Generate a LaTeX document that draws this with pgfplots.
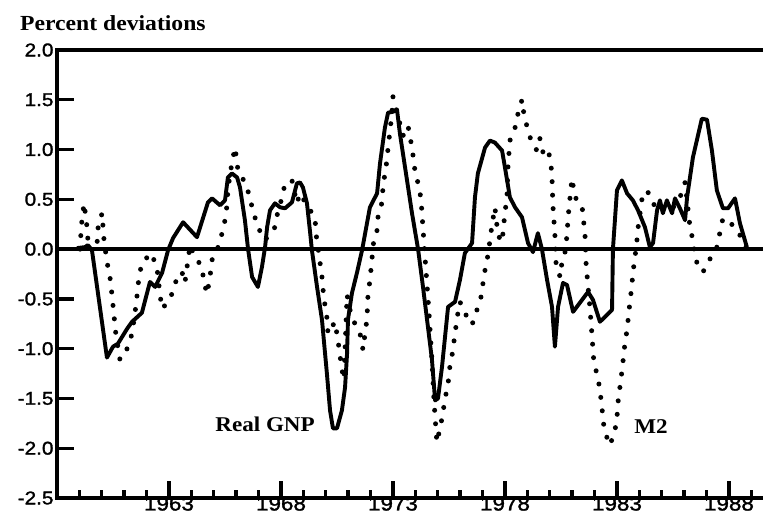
\documentclass[border=0pt]{standalone}
\usepackage{fontspec}
\setmainfont{Liberation Serif}
\newfontfamily\tickfont[FakeStretch=1.12, FakeBold=1.5]{Liberation Sans}
\newfontfamily\labfont[FakeStretch=1.1]{Liberation Serif}
\usepackage{pgfplots}
\usepackage{pgfplotstable}
\pgfplotsset{compat=1.18}

\pgfplotstableread{
year    dev
1958.89  0.01
1959.25  0.02
1959.38  0.04
1959.56 -0.01
1960.23 -1.09
1960.50 -0.98
1960.72 -0.95
1961.13 -0.80
1961.35 -0.73
1961.79 -0.64
1962.15 -0.33
1962.38 -0.38
1962.69 -0.24
1962.96 -0.01
1963.18  0.11
1963.63  0.27
1964.25  0.12
1964.74  0.47
1964.92  0.51
1965.28  0.44
1965.50  0.49
1965.63  0.72
1965.81  0.76
1966.04  0.72
1966.17  0.62
1966.39  0.29
1966.53  0.00
1966.71 -0.28
1966.97 -0.38
1967.15 -0.18
1967.29  0.02
1967.38  0.22
1967.51  0.39
1967.73  0.46
1967.96  0.42
1968.18  0.41
1968.49  0.47
1968.71  0.66
1968.85  0.67
1968.98  0.62
1969.16  0.46
1969.29  0.19
1969.38 -0.01
1969.61 -0.38
1969.83 -0.71
1970.05 -1.25
1970.19 -1.62
1970.32 -1.80
1970.50 -1.80
1970.72 -1.62
1970.86 -1.39
1970.95 -1.05
1970.99 -0.71
1971.17 -0.44
1971.39 -0.24
1971.62 -0.01
1971.84  0.26
1971.97  0.42
1972.29  0.56
1972.42  0.86
1972.64  1.22
1972.78  1.37
1973.00  1.38
1973.18  1.40
1973.31  1.16
1973.54  0.82
1973.85  0.36
1974.12  0.00
1974.34 -0.38
1974.56 -0.78
1974.74 -1.11
1974.88 -1.52
1975.01 -1.50
1975.19 -1.18
1975.46 -0.58
1975.77 -0.53
1975.99 -0.31
1976.21 -0.04
1976.53  0.06
1976.66  0.52
1976.79  0.76
1977.11  1.02
1977.33  1.09
1977.55  1.07
1977.87  0.99
1978.00  0.82
1978.22  0.52
1978.45  0.42
1978.76  0.32
1979.03  0.06
1979.25 -0.03
1979.47  0.16
1979.65  0.00
1979.88 -0.31
1980.10 -0.58
1980.23 -0.98
1980.37 -0.58
1980.59 -0.34
1980.77 -0.36
1981.04 -0.63
1981.71 -0.43
1981.93 -0.51
1982.24 -0.73
1982.78 -0.61
1982.82  0.00
1983.00  0.59
1983.22  0.69
1983.45  0.56
1983.71  0.49
1983.94  0.39
1984.25  0.22
1984.47  0.02
1984.61  0.06
1984.79  0.39
1984.92  0.49
1985.05  0.36
1985.23  0.49
1985.46  0.36
1985.59  0.51
1985.81  0.41
1986.04  0.29
1986.13  0.52
1986.39  0.92
1986.79  1.31
1987.02  1.30
1987.24  0.99
1987.46  0.59
1987.73  0.41
1987.96  0.41
1988.27  0.51
1988.49  0.26
1988.80  0.02
}\gnp

% M2, percent deviation from trend
\pgfplotstableread{
year    dev
1959.03  0.00
1959.07  0.17
1959.12  0.31
1959.21  0.46
1959.34  0.22
1959.38  0.09
1959.79  0.06
1959.83  0.21
1960.01  0.36
1960.10  0.09
1960.19 -0.06
1960.28 -0.19
1960.41 -0.34
1960.46 -0.49
1960.54 -0.64
1960.59 -0.79
1960.68 -0.93
1960.81 -1.11
1961.13 -1.00
1961.35 -0.85
1961.53 -0.56
1961.66 -0.28
1961.79 -0.14
1962.20 -0.04
1962.46 -0.18
1962.60 -0.46
1962.69 -0.60
1962.91 -0.54
1963.18 -0.43
1963.36 -0.28
1963.58 -0.23
1963.71 -0.34
1963.85 -0.11
1963.94  0.04
1964.12 -0.06
1964.47 -0.18
1964.56 -0.33
1964.70 -0.45
1964.83 -0.28
1964.92 -0.11
1965.19  0.02
1965.37  0.16
1965.50  0.29
1965.59  0.44
1965.63  0.60
1965.81  0.87
1965.95  1.02
1966.08  0.79
1966.39  0.67
1966.62  0.52
1966.75  0.37
1966.97  0.24
1967.15  0.12
1967.29  0.09
1967.73  0.22
1967.87  0.39
1968.04  0.51
1968.18  0.66
1968.49  0.69
1968.71  0.46
1968.85  0.56
1969.21  0.42
1969.52  0.32
1969.56  0.16
1969.65  0.02
1969.74 -0.13
1969.83 -0.28
1969.88 -0.41
1969.96 -0.56
1970.05 -0.69
1970.10 -0.85
1970.41 -0.73
1970.54 -0.91
1970.63 -1.06
1970.72 -1.21
1970.81 -1.31
1970.95 -0.46
1971.08 -0.61
1971.30 -0.75
1971.53 -0.85
1971.66 -1.01
1971.84 -0.70
1971.88 -0.48
1971.97 -0.31
1972.06 -0.11
1972.11  0.04
1972.29  0.19
1972.33  0.32
1972.51  0.47
1972.55  0.61
1972.64  0.76
1972.73  0.89
1972.78  1.02
1972.87  1.19
1972.96  1.39
1973.00  1.53
1973.31  1.26
1973.45  1.14
1973.67  1.24
1973.80  1.08
1973.89  0.95
1973.98  0.79
1974.12  0.66
1974.25  0.51
1974.34  0.21
1974.43 -0.08
1974.52 -0.36
1974.61 -0.64
1974.70 -0.98
1974.74 -1.11
1974.83 -1.52
1974.92 -1.82
1974.96 -1.94
1975.10 -1.80
1975.23 -1.65
1975.32 -1.50
1975.46 -1.37
1975.50 -1.23
1975.63 -1.08
1975.72 -0.93
1975.81 -0.78
1975.90 -0.64
1975.99 -0.53
1976.30 -0.68
1976.53 -0.76
1976.75 -0.61
1976.93 -0.48
1977.02 -0.34
1977.11 -0.21
1977.24 -0.06
1977.33  0.09
1977.42  0.24
1977.55  0.42
1977.69  0.14
1977.87  0.07
1978.00  0.37
1978.09  0.52
1978.13  0.81
1978.22  1.09
1978.45  1.22
1978.58  1.36
1978.76  1.50
1978.85  1.35
1979.03  1.19
1979.21  1.06
1979.43  0.99
1979.56  1.11
1979.70  0.97
1979.92  1.01
1980.05  0.86
1980.10  0.72
1980.14  0.44
1980.23  0.14
1980.28 -0.14
1980.46 -0.28
1980.54 -0.14
1980.68 -0.03
1980.77  0.14
1980.81  0.29
1980.86  0.42
1980.99  0.71
1981.13  0.52
1981.44  0.44
1981.49  0.32
1981.57  0.16
1981.62 -0.14
1981.71 -0.38
1981.79 -0.58
1981.88 -0.85
1981.97 -1.14
1982.15 -1.29
1982.24 -1.42
1982.33 -1.59
1982.38 -1.72
1982.46 -1.84
1982.69 -1.97
1982.91 -1.82
1983.00 -1.70
1983.04 -1.55
1983.13 -1.39
1983.22 -1.23
1983.35 -0.96
1983.45 -0.81
1983.58 -0.53
1983.66 -0.38
1983.71 -0.24
1983.80 -0.09
1983.88  0.06
1983.94  0.21
1984.03  0.36
1984.12  0.51
1984.29  0.59
1984.47  0.55
1984.61  0.46
1984.92  0.37
1985.14  0.42
1985.46  0.40
1985.90  0.56
1986.04  0.67
1986.13  0.49
1986.26  0.22
1986.39  0.09
1986.48 -0.06
1986.62 -0.18
1986.84 -0.23
1987.15 -0.10
1987.46  0.02
1987.60  0.17
1987.73  0.31
1988.18  0.24
1988.58  0.11
1988.80  0.00
}\mtwo

\begin{document}
\begin{tikzpicture}
\useasboundingbox (-57pt,-26pt) rectangle (706pt,498pt);
\begin{axis}[
    at={(0,0)}, anchor=south west,
    scale only axis,
    width=706pt, height=448pt,
    xmin=1958, xmax=1989.52,
    ymin=-2.5, ymax=2.0,
    axis line style={draw=none},
    xtick={1963,1968,1973,1978,1983,1988},
    xticklabels={1963,1968,1973,1978,1983,1988},
    minor xtick={1959,...,1989},
    ytick={-2.5,-2.0,-1.5,-1.0,-0.5,0.0,0.5,1.0,1.5,2.0},
    yticklabels={-2.5,-2.0,-1.5,-1.0,-0.5,0.0,0.5,1.0,1.5,2.0},
    xtick pos=bottom, ytick pos=left,
    tick align=inside,
    major tick length=17pt,
    minor tick length=8pt,
    every tick/.style={black, line width=3.4pt},
    xticklabel style={font=\tickfont\fontsize{20}{20}\selectfont, yshift=5pt},
    yticklabel style={font=\tickfont\fontsize{18.5}{20}\selectfont},
    clip=false,
]
% frame: left, bottom and top, no right side
\draw[line width=3.8pt, line cap=rect] (rel axis cs:1,1) -- (rel axis cs:0,1) -- (rel axis cs:0,0) -- (rel axis cs:1,0);
\draw[line width=3.4pt] (axis cs:1958,0) -- (axis cs:1989.52,0);

\addplot[black, line width=3.9pt, line join=round] table[x=year, y=dev] {\gnp};
\addplot[black, line width=5pt, line cap=round, dash pattern=on 0pt off 13.5pt] table[x=year, y=dev] {\mtwo};

\node[font=\labfont\bfseries\fontsize{21}{22}\selectfont] at (axis cs:1967.29,-1.76) {Real GNP};
\node[font=\labfont\bfseries\fontsize{21}{22}\selectfont] at (axis cs:1984.52,-1.78) {M2};
\end{axis}
\node[anchor=base west, font=\labfont\bfseries\fontsize{21.5}{22}\selectfont, inner sep=0pt] at (-37pt,467pt) {Percent deviations};
\end{tikzpicture}
\end{document}
